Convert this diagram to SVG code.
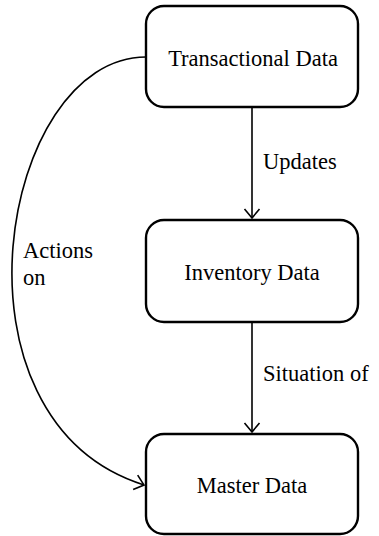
<svg xmlns="http://www.w3.org/2000/svg" width="379" height="536" viewBox="0 0 379 536">
  <style>
    .box { fill: #fff; stroke: #000; stroke-width: 2.4; }
    .label { font-family: "Liberation Serif", "Times New Roman", serif; font-size: 22.5px; fill: #000; }
    .mid { text-anchor: middle; }
    .edge { fill: none; stroke: #000; stroke-width: 1.6; }
  </style>
  <defs>
    <marker id="arrow" markerWidth="16" markerHeight="18" refX="14" refY="9" orient="auto" markerUnits="userSpaceOnUse">
      <path d="M5,1.5 L14,9 L5,16.5" fill="none" stroke="#000" stroke-width="1.6"/>
    </marker>
  </defs>

  <g id="connectors">
    <path class="edge" d="M252,108 L252,218" marker-end="url(#arrow)"/>
    <path class="edge" d="M252,323 L252,432" marker-end="url(#arrow)"/>
    <path class="edge" d="M146,57 C 0,57 -62,420 144,485" marker-end="url(#arrow)"/>
    <text class="label" x="263" y="169">Updates</text>
    <text class="label" x="263" y="381">Situation of</text>
    <text class="label" x="23" y="258">Actions</text>
    <text class="label" x="23" y="285">on</text>
  </g>

  <g id="transactional">
    <rect class="box" x="146" y="6" width="212" height="101" rx="18"/>
    <text class="label mid" x="253" y="66">Transactional Data</text>
  </g>
  <g id="inventory">
    <rect class="box" x="146" y="220" width="212" height="102" rx="18"/>
    <text class="label mid" x="252" y="280">Inventory Data</text>
  </g>
  <g id="master">
    <rect class="box" x="146" y="434" width="212" height="100" rx="18"/>
    <text class="label mid" x="252" y="493">Master Data</text>
  </g>
</svg>
